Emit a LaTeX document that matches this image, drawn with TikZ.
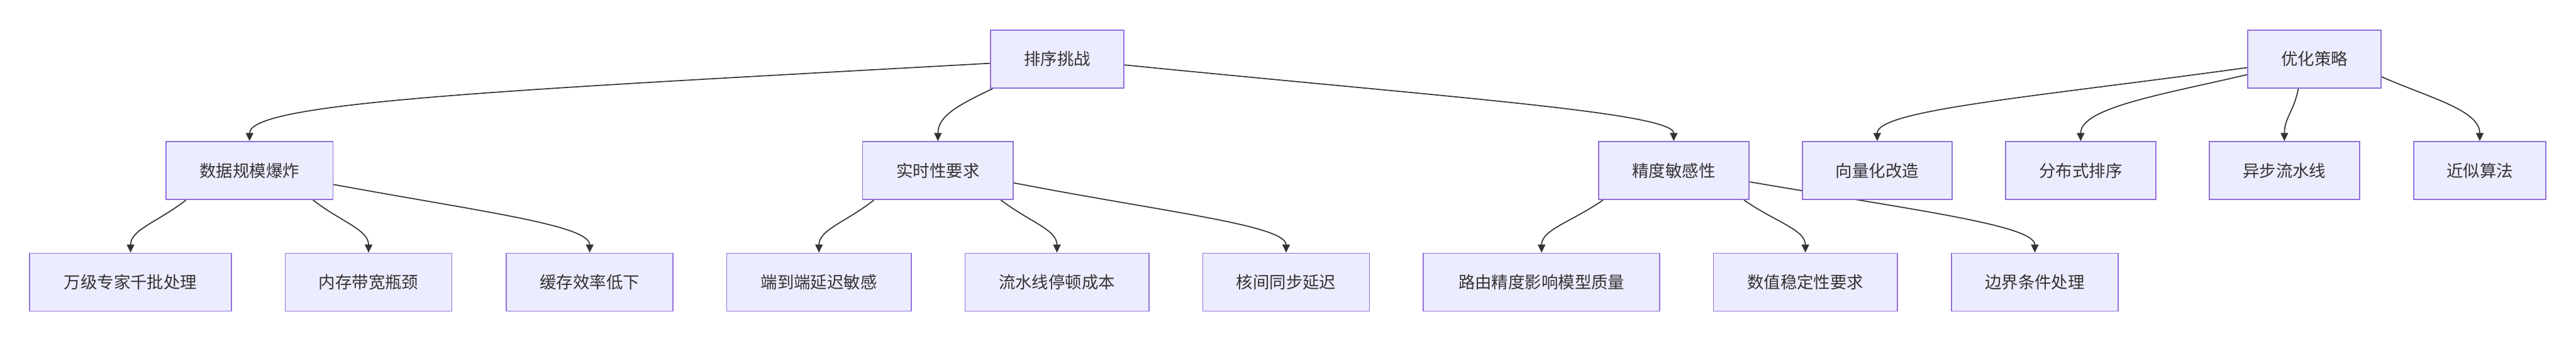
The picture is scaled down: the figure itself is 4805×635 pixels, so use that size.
\documentclass[tikz,border=0pt]{standalone}
\usepackage{fontspec}
\newfontfamily\cjk{Noto Sans CJK SC}
\usetikzlibrary{arrows.meta,backgrounds}
\definecolor{boxfill}{HTML}{ECECFF}
\definecolor{boxdraw}{HTML}{9370DB}
\definecolor{ink}{HTML}{333333}
\tikzset{
  box/.style={draw=boxdraw, fill=boxfill, line width=1bp, minimum height=54bp,
    inner sep=0pt, font=\cjk\fontsize{15.5bp}{18bp}\selectfont, text=ink},
  link/.style={draw=ink, line width=1bp, -{Triangle[length=7.5bp,width=7bp]}}
}
\begin{document}
\begin{tikzpicture}[x=0.5bp,y=-0.5bp]
\useasboundingbox (0,0) rectangle (4805,635);
% top row
\node[box, minimum width=124bp] (A) at (1972,110) {排序挑战};
\node[box, minimum width=124bp] (O) at (4317,110) {优化策略};
% middle row
\node[box, minimum width=155.5bp] (B) at (465.5,318) {数据规模爆炸};
\node[box, minimum width=140.5bp] (C) at (1749.5,318) {实时性要求};
\node[box, minimum width=140bp] (D) at (3122,318) {精度敏感性};
\node[box, minimum width=139.5bp] (V) at (3501.5,318) {向量化改造};
\node[box, minimum width=140bp] (F) at (3881,318) {分布式排序};
\node[box, minimum width=140bp] (G) at (4261,318) {异步流水线};
\node[box, minimum width=123.5bp] (H) at (4625.5,318) {近似算法};
% bottom row
\node[box, minimum width=188.5bp] (B1) at (243.5,526) {万级专家千批处理};
\node[box, minimum width=155.5bp] (B2) at (687.5,526) {内存带宽瓶颈};
\node[box, minimum width=155.5bp] (B3) at (1100,526) {缓存效率低下};
\node[box, minimum width=172bp] (C1) at (1527.6,526) {端到端延迟敏感};
\node[box, minimum width=171.5bp] (C2) at (1971.5,526) {流水线停顿成本};
\node[box, minimum width=155.5bp] (C3) at (2399,526) {核间同步延迟};
\node[box, minimum width=220.5bp] (D1) at (2875.5,526) {路由精度影响模型质量};
\node[box, minimum width=171.5bp] (D2) at (3367.5,526) {数值稳定性要求};
\node[box, minimum width=155.5bp] (D3) at (3795.5,526) {边界条件处理};
\begin{pgfonlayer}{background}
\draw[link] ([yshift=-4bp]A.west) .. controls (948,168) and (465.5,190) .. (B.north);
\draw[link] ([xshift=2.5bp]A.south west) .. controls (1790,195) and (1749.5,215) .. (C.north);
\draw[link] ([yshift=-5.5bp]A.east) .. controls (2696,181) and (3122,210) .. (D.north);
\draw[link] ([xshift=19bp]B.south west) .. controls (296,413) and (243.5,428) .. (B1.north);
\draw[link] ([xshift=-19bp]B.south east) .. controls (635,413) and (687.5,428) .. (B2.north);
\draw[link] ([yshift=-13bp]B.east) .. controls (900,395) and (1100,420) .. (B3.north);
\draw[link] ([xshift=11bp]C.south west) .. controls (1580,413) and (1527.6,428) .. (C1.north);
\draw[link] ([xshift=-12bp]C.south east) .. controls (1919,413) and (1971.5,428) .. (C2.north);
\draw[link] ([yshift=-11.5bp]C.east) .. controls (2170,395) and (2399,420) .. (C3.north);
\draw[link] ([xshift=4.5bp]D.south west) .. controls (2933,413) and (2875.5,428) .. (D1.north);
\draw[link] ([xshift=-5bp]D.south east) .. controls (3310,413) and (3367.5,428) .. (D2.north);
\draw[link] ([yshift=-10.5bp]D.east) .. controls (3572,392) and (3795.5,420) .. (D3.north);
\draw[link] ([yshift=-8bp]O.west) .. controls (3793,181) and (3501.5,205) .. (V.north);
\draw[link] ([yshift=-14.5bp]O.west) .. controls (4040,175) and (3881,200) .. (F.north);
\draw[link] ([xshift=-15bp]O.south) .. controls (4280,205) and (4261,220) .. (G.north);
\draw[link] ([yshift=-16.5bp]O.east) .. controls (4530,182) and (4625.5,205) .. (H.north);
\end{pgfonlayer}
\end{tikzpicture}
\end{document}
